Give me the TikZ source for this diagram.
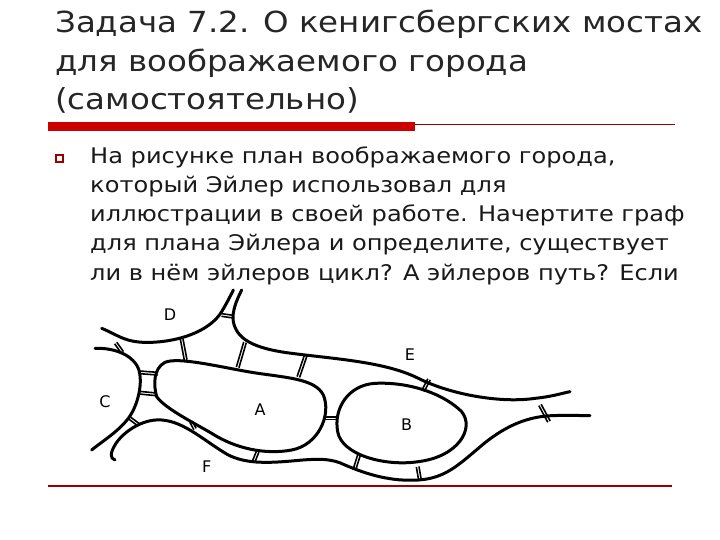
\documentclass[tikz,border=0pt]{standalone}
\usepackage{fontspec}
\setmainfont{DejaVu Sans}
\usetikzlibrary{calc}
\begin{document}
\begin{tikzpicture}[x=1pt,y=-1pt,
  ttl/.style={anchor=base west,inner sep=0pt,xscale=1.12,transform shape,font=\fontsize{29}{34}\selectfont,text=black!85},
  body/.style={anchor=base west,inner sep=0pt,xscale=1.12,transform shape,font=\fontsize{21.5}{26}\selectfont,text=black!90},
  bank/.style={line width=3pt,line cap=round,line join=round},
  lbl/.style={font=\fontsize{16}{18}\selectfont}]
\useasboundingbox (0,0) rectangle (720,540);
\node[ttl] (t1) at (55,33) {Задача 7.2. О кенигсбергских мостах};
\node[ttl] (t2) at (55,72) {для воображаемого города};
\node[ttl] (t3) at (55,110) {(самостоятельно)};
\fill[red!80!black] (48,122) rectangle (415,131);
\draw[red!60!black,line width=0.8pt] (415,124) -- (675,124);
\draw[red!60!black,line width=1.2pt] (48,486) -- (672,486);
\draw[red!60!black,line width=1.2pt] (56,155) rectangle (63,162);
\node[body] (b1) at (90,164) {На рисунке план воображаемого города,};
\node[body] (b2) at (90,193) {который Эйлер использовал для};
\node[body] (b3) at (90,222) {иллюстрации в своей работе. Начертите граф};
\node[body] (b4) at (90,251) {для плана Эйлера и определите, существует};
\node[body] (b5) at (90,280) {ли в нём эйлеров цикл? А эйлеров путь? Если};
\fill[white] (89,287) rectangle (598,481);
\begin{scope}[shift={(85,285)},scale=1/3]
\draw[bank] (50,130) .. controls (100,150) and (120,175) .. (200,172) .. controls (300,168) and (380,130) .. (410,80) .. controls (425,55) and (435,35) .. (445,15);
\draw[bank] (470,15) .. controls (455,45) and (440,80) .. (445,110) .. controls (455,160) and (500,190) .. (620,205) .. controls (750,222) and (900,230) .. (1000,280) .. controls (1100,330) and (1250,355) .. (1350,340) .. controls (1400,335) and (1430,325) .. (1455,320);
\draw[bank] (30,190) .. controls (80,188) and (140,205) .. (160,250) .. controls (175,290) and (160,360) .. (130,400) .. controls (100,440) and (50,470) .. (20,495);
\draw[bank] (90,525) .. controls (75,520) and (75,505) .. (90,480) .. controls (110,445) and (170,400) .. (230,405) .. controls (300,410) and (360,470) .. (430,510) .. controls (480,535) and (540,535) .. (620,528) .. controls (700,520) and (740,520) .. (780,540) .. controls (850,570) and (920,590) .. (1000,585) .. controls (1080,580) and (1120,540) .. (1180,490) .. controls (1260,420) and (1330,395) .. (1400,392) .. controls (1450,390) and (1490,392) .. (1515,392);
\draw[bank] (240,232) .. controls (280,215) and (400,245) .. (500,262) .. controls (600,278) and (690,280) .. (715,330) .. controls (740,390) and (700,480) .. (620,495) .. controls (540,510) and (450,490) .. (380,445) .. controls (320,410) and (240,370) .. (215,335) .. controls (205,300) and (205,250) .. (240,232) -- cycle;
\draw[bank] (870,295) .. controls (980,290) and (1080,330) .. (1130,380) .. controls (1170,430) and (1120,515) .. (1000,530) .. controls (900,545) and (770,510) .. (758,440) .. controls (745,370) and (790,300) .. (870,295) -- cycle;
\foreach \ax/\ay/\bx/\by in {92/174/112/202, 290/162/302/225, 480/172/458/247, 662/212/640/276, 410/90/445/95, 163/262/218/266, 162/323/214/328, 132/398/162/420, 318/410/330/432, 518/500/505/532, 718/400/757/400, 822/510/808/555, 998/545/1005/586, 1032/283/1014/318, 1365/360/1392/410}{
  \draw[line width=1.6pt] ($(\ax,\ay)!4pt!90:(\bx,\by)$) -- ($(\bx,\by)!4pt!-90:(\ax,\ay)$);
  \draw[line width=1.6pt] ($(\ax,\ay)!4pt!-90:(\bx,\by)$) -- ($(\bx,\by)!4pt!90:(\ax,\ay)$);
}
\node[lbl] (D) at (255,90) {D};
\node[lbl] (E) at (975,210) {E};
\node[lbl] (C) at (60,350) {C};
\node[lbl] (A) at (525,375) {A};
\node[lbl] (B) at (965,420) {B};
\node[lbl] (F) at (365,545) {F};
\end{scope}
\end{tikzpicture}
\end{document}
